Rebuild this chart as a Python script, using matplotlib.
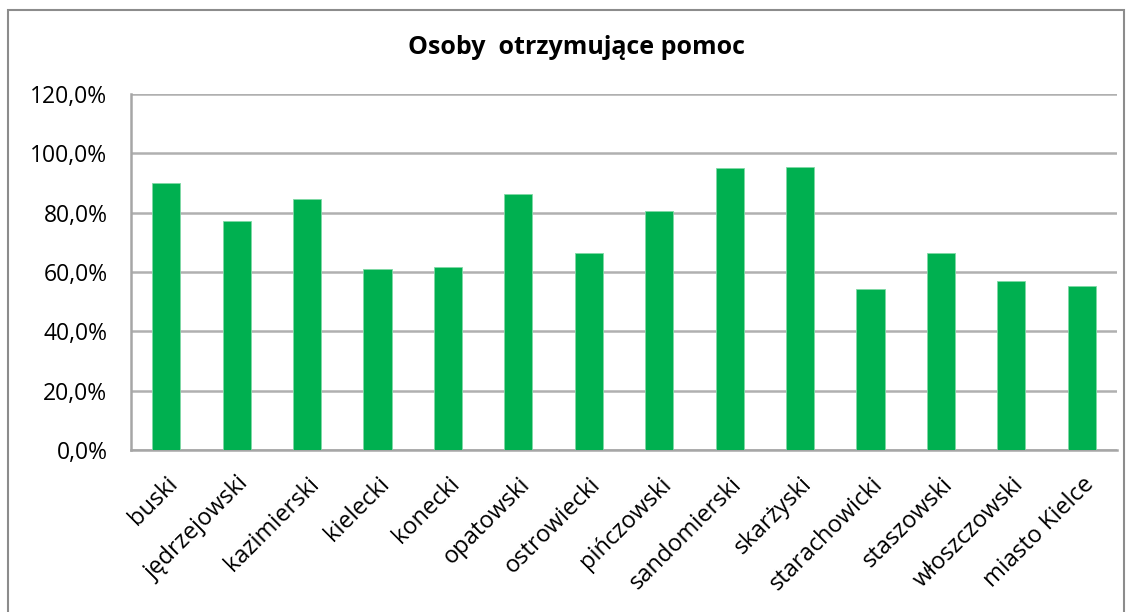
import matplotlib
matplotlib.use("Agg")
import matplotlib.pyplot as plt
from matplotlib.patches import Rectangle
from matplotlib.ticker import FuncFormatter, MultipleLocator

categories = ["buski", "jędrzejowski", "kazimierski", "kielecki", "konecki",
              "opatowski", "ostrowiecki", "pińczowski", "sandomierski",
              "skarżyski", "starachowicki", "staszowski", "włoszczowski",
              "miasto Kielce"]
values = [89.9, 77.3, 84.6, 60.9, 61.7, 86.4, 66.4, 80.7, 94.9, 95.4,
          54.3, 66.4, 56.9, 55.3]
title = "Osoby  otrzymujące pomoc"

plt.rcParams['font.family'] = ['Open Sans', 'DejaVu Sans']

fig = plt.figure(figsize=(11.34, 6.12), dpi=100)
fig.patches.append(Rectangle((8/1134, -0.01), (1124-8)/1134, 1 - 10/612 + 0.01,
                             transform=fig.transFigure, fill=False,
                             edgecolor='#8c8c8c', linewidth=1.5))

ax = fig.add_axes([131/1134, 1 - 450/612, (1117-131)/1134, (450-94)/612])
x = range(len(categories))
ax.bar(x, values, width=0.4, color='#00B050', edgecolor='#7fd9a5', linewidth=0.6, zorder=3)
ax.set_xlim(-0.5, len(categories) - 0.5)
ax.set_ylim(0, 120)
ax.yaxis.set_major_locator(MultipleLocator(20))
ax.yaxis.set_major_formatter(FuncFormatter(lambda v, p: f"{v:.1f}%".replace('.', ',')))
ax.grid(axis='y', color='#b0b0b0', linewidth=1.8, zorder=0)
ax.grid(axis='x', visible=False)
for s in ['top', 'right']:
    ax.spines[s].set_visible(False)
for s in ['left', 'bottom']:
    ax.spines[s].set_color('#a6a6a6')
    ax.spines[s].set_linewidth(1.8)
ax.tick_params(axis='both', length=0, colors='#000000')
ax.tick_params(axis='y', pad=17, labelsize=16.5)
ax.set_xticks(list(x))
ax.set_xticklabels(categories, rotation=45, ha='right', rotation_mode='anchor', fontsize=17)
ax.tick_params(axis='x', pad=16)

fig.text(576/1134, 1 - 47/612, title, ha='center', va='center', fontsize=18, fontweight='bold')

fig.savefig("out.png", dpi=100)
